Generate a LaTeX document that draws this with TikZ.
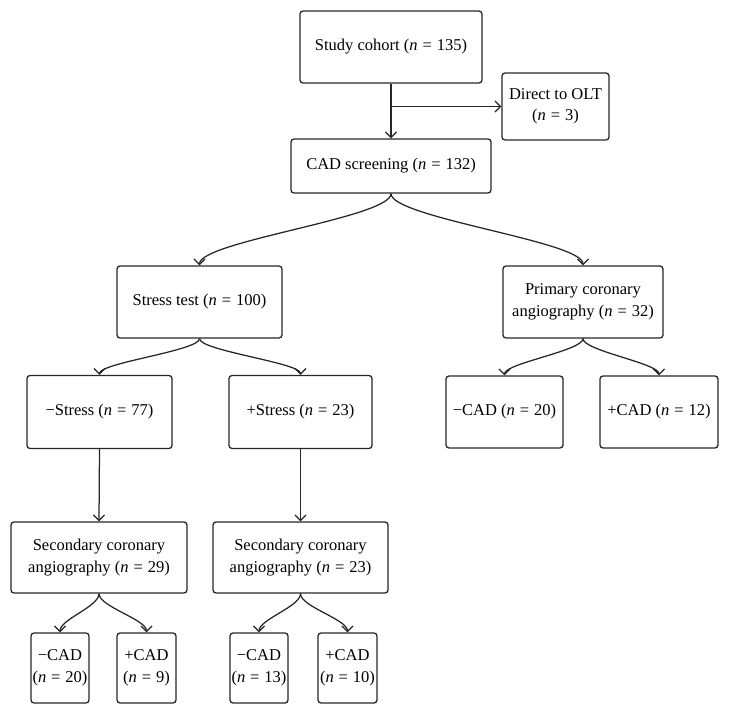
\documentclass[tikz,border=0pt]{standalone}
\usepackage{fontspec}
\setmainfont{Liberation Serif}
\usetikzlibrary{arrows.meta}
\newcommand{\nval}[1]{(\textit{n}\hspace{0.3em}=\hspace{0.3em}#1)}
\begin{document}
\begin{tikzpicture}[x=1pt,y=-1pt,
  bx/.style 2 args={draw=black!85, rounded corners=3pt, line width=1.3pt, align=center, inner sep=0pt, minimum width=#1, minimum height=#2, font=\fontsize{16.5}{21.5}\selectfont},
  arr/.style={draw=black!85, line width=1.25pt, -{Straight Barb[length=5.5pt,width=11pt,line width=1.25pt]}}]
\useasboundingbox (0,0) rectangle (729,714);
\node[bx={182pt}{72pt}] (cohort) at (391,47) {Study cohort \nval{135}};
\node[bx={107pt}{67pt}] (olt) at (555.5,106.5) {Direct to OLT\\\nval{3}};
\node[bx={200pt}{54pt}] (cad) at (391,166) {CAD screening \nval{132}};
\node[bx={165pt}{72pt}] (stress) at (199.5,302) {Stress test \nval{100}};
\node[bx={160pt}{72pt}] (primary) at (583,302) {Primary coronary\\angiography \nval{32}};
\node[bx={145pt}{73pt}] (mstress) at (99.5,412) {−Stress \nval{77}};
\node[bx={143pt}{73pt}] (pstress) at (300.5,412) {+Stress \nval{23}};
\node[bx={117pt}{72pt}] (ncad) at (504.5,412) {−CAD \nval{20}};
\node[bx={118pt}{72pt}] (pcad) at (659,412) {+CAD \nval{12}};
\node[bx={176pt}{71pt}] (secA) at (99,557.5) {Secondary coronary\\angiography \nval{29}};
\node[bx={175pt}{71pt}] (secB) at (300.5,557.5) {Secondary coronary\\angiography \nval{23}};
\node[bx={58pt}{70pt}] (bA) at (60,668) {−CAD\\\nval{20}};
\node[bx={59pt}{70pt}] (bB) at (146.5,668) {+CAD\\\nval{9}};
\node[bx={58pt}{70pt}] (bC) at (259,668) {−CAD\\\nval{13}};
\node[bx={59pt}{70pt}] (bD) at (347.5,668) {+CAD\\\nval{10}};
% connectors
\draw[arr] (cohort.south) -- (cad.north);
\path (cohort.south |- olt.west) coordinate (br);
\draw[arr] (br) -- (olt.west);
\draw[arr] (cad.south) .. controls +(0,24) and +(0,-24) .. (stress.north);
\draw[arr] (cad.south) .. controls +(0,24) and +(0,-24) .. (primary.north);
\draw[arr] (stress.south) .. controls +(0,12) and +(0,-12) .. (mstress.north);
\draw[arr] (stress.south) .. controls +(0,12) and +(0,-12) .. (pstress.north);
\draw[arr] (primary.south) .. controls +(0,12) and +(0,-12) .. (ncad.north);
\draw[arr] (primary.south) .. controls +(0,12) and +(0,-12) .. (pcad.north);
\draw[arr] (mstress.south) -- (secA.north);
\draw[arr] (pstress.south) -- (secB.north);
\draw[arr] (secA.south) .. controls +(0,13) and +(0,-13) .. (bA.north);
\draw[arr] (secA.south) .. controls +(0,13) and +(0,-13) .. (bB.north);
\draw[arr] (secB.south) .. controls +(0,13) and +(0,-13) .. (bC.north);
\draw[arr] (secB.south) .. controls +(0,13) and +(0,-13) .. (bD.north);
\end{tikzpicture}
\end{document}
